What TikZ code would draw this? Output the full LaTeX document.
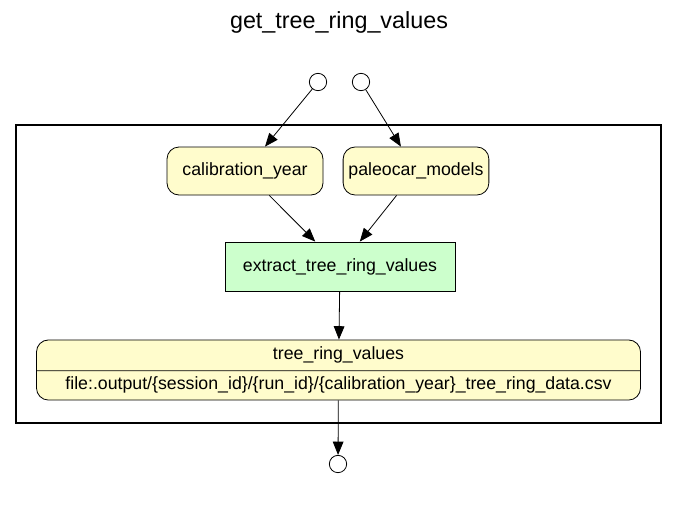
\documentclass[tikz,border=0pt]{standalone}
\usepackage{fontspec}
\setmainfont{Liberation Sans}
\usetikzlibrary{arrows.meta, positioning, shapes.multipart}

\tikzset{
  data/.style={draw, line width=0.6pt, rounded corners=9pt, fill=yellow!20, font=\fontsize{13.3}{15}\selectfont,
    minimum height=36pt, inner sep=4pt},
  task/.style={draw, line width=0.6pt, fill=green!20, font=\fontsize{13.3}{15}\selectfont,
    minimum height=36.75pt, minimum width=172.5pt},
  port/.style={draw, line width=0.6pt, circle, minimum size=13pt, inner sep=0pt},
  flow/.style={draw, line width=0.6pt, -{Triangle[length=10pt,width=8pt]}},
}

\begin{document}
\begin{tikzpicture}[x=0.75pt, y=-0.75pt]
\useasboundingbox (0,0) rectangle (677,511);

\node[font=\fontsize{17.5}{20}\selectfont] (title) at (339,22) {get\_tree\_ring\_values};

% workflow frame
\draw[line width=1.5pt] (16,125) rectangle (661,423);

\node[port] (in1) at (318,82) {};
\node[port] (in2) at (361,82) {};

\node[data, minimum width=117pt] (cal) at (245,171) {calibration\_year};
\node[data, minimum width=103pt] (pal) at (416,171) {paleocar\_models};
\node[task] (ext) at (340,266.5) {extract\_tree\_ring\_values};

\node[data, rectangle split, rectangle split parts=2, text width=444pt, align=center,
  inner sep=4.5pt, text height=10pt, text depth=3.5pt] (out) at (338.5,370)
  {tree\_ring\_values
   \nodepart{two} file:.output/\{session\_id\}/\{run\_id\}/\{calibration\_year\}\_tree\_ring\_data.csv};

\node[port] (fin) at (338,464) {};

\path
(in1) edge[flow] (cal)
(in2) edge[flow] (pal)
(cal) edge[flow] (ext)
(pal) edge[flow] (ext)
(ext) edge[flow] (out)
(out) edge[flow] (fin);

\end{tikzpicture}
\end{document}
